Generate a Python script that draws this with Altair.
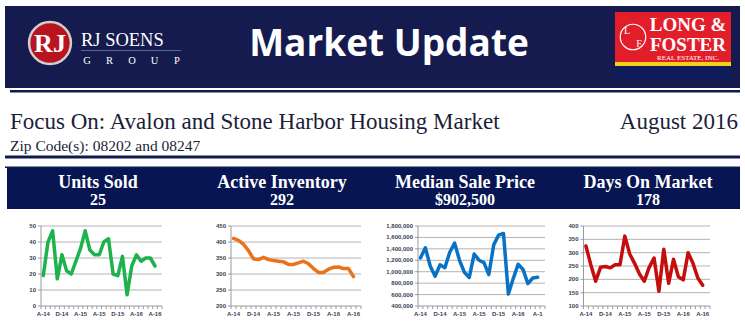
import altair as alt
import pandas as pd

# ---------------- data ----------------
months = list(range(25))  # Aug-14 .. Aug-16
units_sold = [19, 40, 47, 17, 32, 22, 20, 28, 36, 47, 35, 32, 32, 40, 42, 20,
              19, 31, 7, 25, 32, 28, 30, 30, 25]
active_inventory = [411, 405, 393, 373, 347, 345, 352, 345, 342, 340, 338, 330,
                    330, 335, 340, 332, 317, 305, 305, 315, 321, 322, 317, 317, 292]
median_price = [1240000, 1420000, 1100000, 920000, 1120000, 1070000, 1340000,
                1500000, 1200000, 990000, 900000, 1310000, 1200000, 1160000,
                950000, 1470000, 1640000, 1670000, 610000, 880000, 1130000,
                1040000, 790000, 890000, 902500]
days_on_market = [325, 255, 193, 245, 248, 243, 255, 255, 362, 295, 260, 220,
                  193, 245, 280, 155, 313, 185, 275, 210, 198, 300, 260, 205, 178]

units_ticks = [0, 10, 20, 30, 40, 50]
inventory_ticks = [200, 250, 300, 350, 400, 450]
price_ticks = [400000, 600000, 800000, 1000000, 1200000, 1400000, 1600000, 1800000]
days_ticks = [100, 150, 200, 250, 300, 350, 400]

x_label_months = [0, 4, 8, 12, 16, 20, 24]
x_labels = ["A-14", "D-14", "A-15", "A-15", "D-15", "A-16", "A-16"]
x_labels_cut = ["A-14", "D-14", "A-15", "A-15", "D-15", "A-16", "A-1"]

titles = ["Units Sold", "Active Inventory", "Median Sale Price", "Days On Market"]
headline_values = ["25", "292", "$902,500", "178"]
group_letters = ["G", "R", "O", "U", "P"]

# ---------------- styles ----------------
NAVY = "#151b4e"
BOX = "#071552"
TXT = "#1b1e38"
GRID = "#b3b3b3"
AXIS = "#9a9a9a"
LBL = "#3a4158"
SERIF = "Liberation Serif"

one = pd.DataFrame({"a": [0]})


def v(x):
    return alt.value(x)


def rect(x, x2, y, y2, color, **kw):
    return alt.Chart(one).mark_rect(color=color, **kw).encode(
        x=v(x), x2=v(x2), y=v(y), y2=v(y2))


def text(s, x, y, size, color="white", font=SERIF, weight="normal", align="left", **kw):
    return alt.Chart(one).mark_text(
        align=align, baseline="alphabetic", font=font, fontSize=size,
        fontWeight=weight, color=color, **kw).encode(
        x=v(x), y=v(y), text=v(s))


header = [
    rect(5, 740, 6, 88, NAVY),
    # left logo
    alt.Chart(one).mark_point(shape="circle", filled=True, size=1750, color="#b8141f",
                              stroke="#cfcfcf", strokeWidth=2.5, opacity=1).encode(
        x=v(50), y=v(43)),
    text("RJ", 50, 52, 26, weight="bold", align="center"),
    text("RJ SOENS", 81, 46, 18.5),
    rect(81, 181, 50, 51, "#5d6690"),
    # title
    text("Market Update", 389, 56, 37, font="Open Sans", weight="bold", align="center"),
    # right logo
    rect(615, 731, 12, 62, "#e31e2b"),
    rect(615, 731, 62, 66, "#f3d21b"),
    rect(615, 731, 66, 80, "#101b5a"),
    alt.Chart(one).mark_point(shape="circle", filled=False, size=650, color="white",
                              strokeWidth=1.2, opacity=1).encode(x=v(633), y=v(37)),
    text("L", 627, 34, 10, align="center"),
    text("F", 639, 47, 10, align="center"),
    text("LONG &", 688, 31, 19, weight="bold", align="center"),
    text("FOSTER", 688, 51, 19, weight="bold", align="center"),
    text("REAL ESTATE, INC.", 688, 60, 7, align="center"),
    # rule under banner
    rect(10, 740, 90, 92.5, "#0f1a4f"),
    # focus lines
    text("Focus On: Avalon and Stone Harbor Housing Market", 10, 129, 23, color=TXT),
    text("August 2016", 738, 129, 23, color=TXT, align="right"),
    text("Zip Code(s): 08202 and 08247", 10, 151, 15.5, color=TXT),
    rect(5, 740, 155.5, 158.5, "#0f1a4f"),
    rect(5, 740, 166.5, 168, "#0f1a4f"),
    rect(7, 740, 168, 209, BOX),
]

for i, letter in enumerate(group_letters):
    header.append(text(letter, 87 + 22.5 * i, 64, 10.5, align="center"))

title_centers = [98, 282, 465, 648]
for t, val, cx in zip(titles, headline_values, title_centers):
    header.append(text(t, cx, 188, 18, weight="bold", align="center"))
    header.append(text(val, cx, 205, 16, weight="bold", align="center"))


def panel(values, ticks, x_range, color, labels):
    xs = alt.Scale(domain=[-0.5, 25.5], range=x_range, nice=False, zero=False)
    ys = alt.Scale(domain=[ticks[0], ticks[-1]], range=[306, 226], nice=False, zero=False)
    ymin, ymax = ticks[0], ticks[-1]

    def XD(d):
        return alt.XDatum(d, type="quantitative", scale=xs, axis=None)

    def YD(d):
        return alt.YDatum(d, type="quantitative", scale=ys, axis=None)

    tick_df = pd.DataFrame({"v": ticks})
    grid_df = pd.DataFrame({"v": ticks[1:]})
    xt_df = pd.DataFrame({"t": [i - 0.5 for i in range(27)]})
    lab_df = pd.DataFrame({"p": x_label_months, "l": labels})
    line_df = pd.DataFrame({"m": months, "v": values})

    grid = alt.Chart(grid_df).mark_rule(color=GRID, strokeWidth=1).encode(
        x=XD(-0.5), x2=alt.X2Datum(25.5), y=alt.Y("v:Q", scale=ys, axis=None))
    yaxis = alt.Chart(one).mark_rule(color=AXIS, strokeWidth=1).encode(
        x=XD(-0.5), y=YD(ymin), y2=alt.Y2Datum(ymax))
    yticks = alt.Chart(tick_df).mark_rule(color=AXIS, strokeWidth=1, x2Offset=-3).encode(
        x=XD(-0.5), x2=alt.X2Datum(-0.5), y=alt.Y("v:Q", scale=ys, axis=None))
    xaxis = alt.Chart(one).mark_rule(color=AXIS, strokeWidth=1).encode(
        x=XD(-0.5), x2=alt.X2Datum(25.5), y=YD(ymin))
    xticks = alt.Chart(xt_df).mark_rule(color=AXIS, strokeWidth=1, y2Offset=3).encode(
        x=alt.X("t:Q", scale=xs, axis=None), y=YD(ymin), y2=alt.Y2Datum(ymin))
    line = alt.Chart(line_df).mark_line(color=color, strokeWidth=3.5,
                                        strokeJoin="round", strokeCap="round").encode(
        x=alt.X("m:Q", scale=xs, axis=None), y=alt.Y("v:Q", scale=ys, axis=None))
    ylabels = alt.Chart(tick_df).mark_text(align="right", baseline="middle", dx=-5,
                                          fontSize=6, fontWeight="bold", color=LBL,
                                          font="Liberation Sans").encode(
        x=XD(-0.5), y=alt.Y("v:Q", scale=ys, axis=None),
        text=alt.Text("v:Q", format=","))
    xlabels = alt.Chart(lab_df).mark_text(align="center", baseline="top", dy=5,
                                         fontSize=6, fontWeight="bold", color=LBL,
                                         font="Liberation Sans").encode(
        x=alt.X("p:Q", scale=xs, axis=None), y=YD(ymin), text="l:N")
    return alt.layer(grid, yaxis, yticks, xaxis, xticks, line, ylabels, xlabels)


panels = [
    panel(units_sold, units_ticks, [41, 162], "#1db34c", x_labels),
    panel(active_inventory, inventory_ticks, [231, 361], "#e8731a", x_labels),
    panel(median_price, price_ticks, [418, 545], "#0a72c4", x_labels_cut),
    panel(days_on_market, days_ticks, [583.5, 710], "#c40d0d", x_labels),
]

chart = alt.layer(*header, *panels).resolve_scale(
    x="independent", y="independent"
).properties(
    width=745, height=330, padding=0,
    autosize=alt.AutoSizeParams(type="none"),
    background="white",
).configure_view(stroke=None)

chart.save("out.html", embed_options={"renderer": "svg", "actions": False})
